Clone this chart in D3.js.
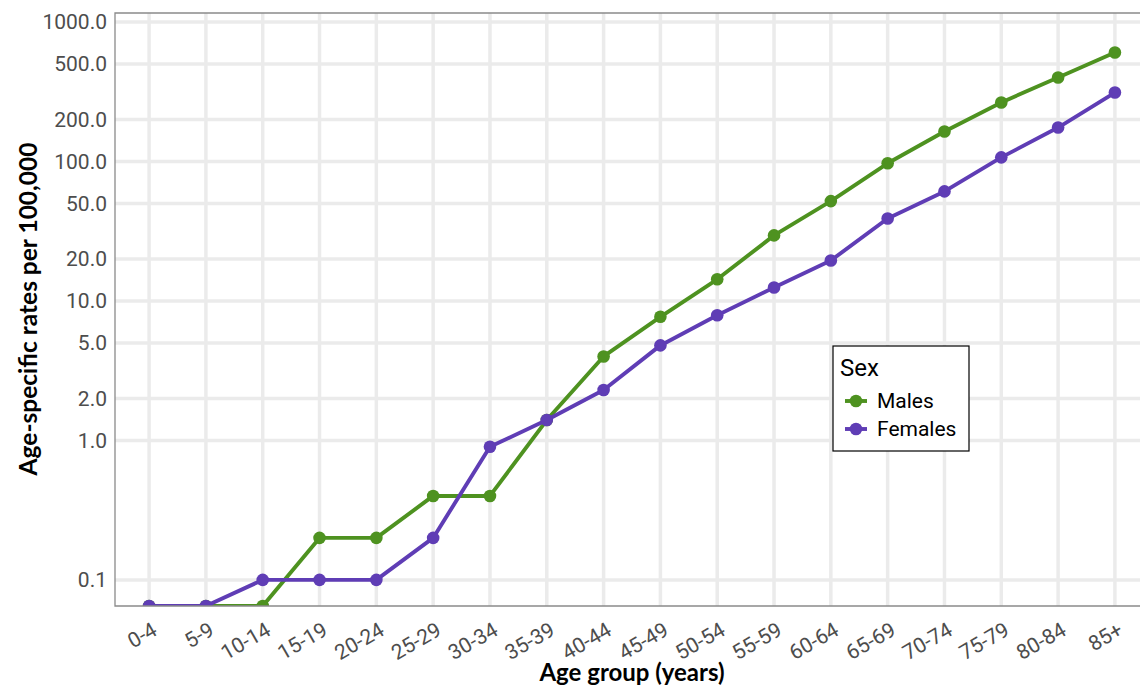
<!DOCTYPE html>
<html><head><meta charset="utf-8">
<script src="https://cdn.jsdelivr.net/npm/d3@7"></script>
<style>body{margin:0;background:#fff}svg{display:block}</style>
</head><body>
<script>
const ageGroups = ["0-4","5-9","10-14","15-19","20-24","25-29","30-34","35-39","40-44","45-49","50-54","55-59","60-64","65-69","70-74","75-79","80-84","85+"];
const males   = [0.065,0.065,0.065,0.2,0.2,0.4,0.4,1.4,4.0,7.7,14.3,29.5,52,97,164,265,400,604];
const females = [0.065,0.065,0.1,0.1,0.1,0.2,0.9,1.4,2.3,4.8,7.9,12.5,19.5,39,61,107,175,312];
const yTicks = [0.1,1,2,5,10,20,50,100,200,500,1000];
const seriesNames = ["Males","Females"];
const seriesColors = ["#4e9220","#5f3db5"];

const W = 1140, H = 685;
const m = {left:115, top:13, right:1149, bottom:606};
const svg = d3.select("body").append("svg").attr("width",W).attr("height",H);

const x = d3.scalePoint().domain(ageGroups).range([m.left, m.right]).padding(0.6);
const y = d3.scaleLog().domain([0.065, 1160]).range([m.bottom, m.top]);

svg.append("defs").append("clipPath").attr("id","clip")
  .append("rect").attr("x",m.left).attr("y",m.top).attr("width",m.right-m.left).attr("height",m.bottom-m.top);

// grid
const g = svg.append("g").attr("clip-path","url(#clip)");
g.selectAll(".hg").data(yTicks).join("line")
  .attr("x1",m.left).attr("x2",m.right).attr("y1",d=>y(d)).attr("y2",d=>y(d))
  .attr("stroke","#ebebeb").attr("stroke-width",3.5);
g.selectAll(".vg").data(ageGroups).join("line")
  .attr("x1",d=>x(d)).attr("x2",d=>x(d)).attr("y1",m.top).attr("y2",m.bottom)
  .attr("stroke","#ebebeb").attr("stroke-width",3.5);

// panel border
svg.append("path").attr("d",`M${m.right},${m.top}H${m.left}V${m.bottom}H${m.right}`)
  .attr("fill","none").attr("stroke","#8a8a8a").attr("stroke-width",1.3);

// y axis
const yAxis = d3.axisLeft(y).tickValues(yTicks).tickFormat(d3.format(".1f")).tickSize(0).tickPadding(8);
const ya = svg.append("g").attr("transform",`translate(${m.left},0)`).call(yAxis);
ya.select(".domain").remove();
ya.selectAll("text").attr("font-family","Roboto").attr("font-size",21).attr("fill","#4d4d4d");

// x axis
const xAxis = d3.axisBottom(x).tickSize(0).tickPadding(0);
const xa = svg.append("g").attr("transform",`translate(0,${m.bottom})`).call(xAxis);
xa.select(".domain").remove();
xa.selectAll("text").attr("font-family","Roboto").attr("font-size",21).attr("fill","#4d4d4d")
  .attr("text-anchor","end").attr("dy",null).attr("y",0)
  .attr("transform","translate(9,28) rotate(-30)");

// series
const series = [males, females];
const line = d3.line().x((d,i)=>x(ageGroups[i])).y(d=>y(d));
series.forEach((vals,k)=>{
  g.append("path").datum(vals).attr("d",line).attr("fill","none")
    .attr("stroke",seriesColors[k]).attr("stroke-width",3.9).attr("stroke-linejoin","round");
  g.selectAll(".pt"+k).data(vals).join("circle")
    .attr("cx",(d,i)=>x(ageGroups[i])).attr("cy",d=>y(d)).attr("r",6.3)
    .attr("fill",seriesColors[k]);
});

// axis titles
svg.append("text").attr("x",632).attr("y",681).attr("text-anchor","middle")
  .attr("font-family","Lato").attr("font-weight","bold").attr("font-size",24).attr("fill","#000")
  .text("Age group (years)");
svg.append("text").attr("transform",`translate(37,309) rotate(-90)`).attr("text-anchor","middle")
  .attr("font-family","Lato").attr("font-weight","bold").attr("font-size",24.5).attr("fill","#000")
  .text("Age-specific rates per 100,000");

// legend
const lg = svg.append("g").attr("transform","translate(833,346)");
lg.append("rect").attr("width",136).attr("height",105).attr("fill","#fff").attr("stroke","#000").attr("stroke-width",1.2);
lg.append("text").attr("x",7).attr("y",30).attr("font-family","Roboto").attr("font-size",24).text("Sex");
seriesNames.forEach((n,k)=>{
  const yy = 55 + k*28;
  lg.append("line").attr("x1",12).attr("x2",34).attr("y1",yy).attr("y2",yy).attr("stroke",seriesColors[k]).attr("stroke-width",3.9);
  lg.append("circle").attr("cx",23).attr("cy",yy).attr("r",6.3).attr("fill",seriesColors[k]);
  lg.append("text").attr("x",44).attr("y",yy+7).attr("font-family","Roboto").attr("font-size",21).text(n);
});
</script>
</body></html>
